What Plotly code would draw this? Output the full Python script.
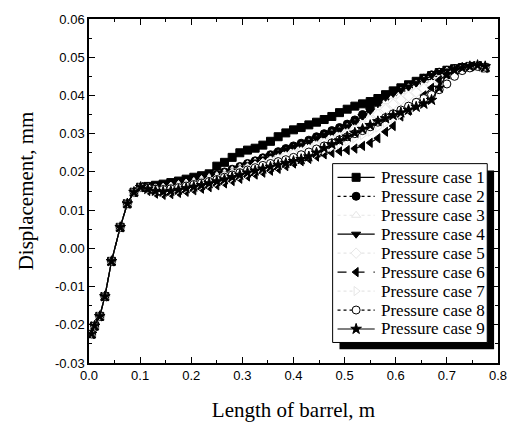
import plotly.graph_objects as go

# Inlet section: identical for every pressure case
x_inlet = [0.005, 0.011, 0.021, 0.031, 0.044, 0.061, 0.075, 0.088, 0.101]
y_inlet = [-0.0224, -0.0203, -0.0178, -0.0126, -0.0034, 0.0055, 0.0117, 0.0147, 0.0160]

# Bore section stations
x_bore = [0.115, 0.13, 0.145, 0.16, 0.175, 0.19, 0.205, 0.22, 0.235, 0.25,
          0.265, 0.28, 0.295, 0.31, 0.325, 0.34, 0.355, 0.37, 0.385, 0.40,
          0.415, 0.43, 0.445, 0.46, 0.475, 0.49, 0.505, 0.52, 0.535, 0.55,
          0.565, 0.58, 0.595, 0.61, 0.625, 0.64, 0.655, 0.67, 0.685, 0.70,
          0.715, 0.73, 0.745, 0.76, 0.775]

case1 = [0.0162, 0.0165, 0.0168, 0.0172, 0.0176, 0.0181, 0.0186, 0.0190, 0.0195, 0.0215,
         0.0225, 0.0238, 0.0250, 0.0257, 0.0262, 0.0270, 0.0280, 0.0292, 0.0302, 0.0310,
         0.0316, 0.0323, 0.0330, 0.0337, 0.0345, 0.0355, 0.0364, 0.0372, 0.0378, 0.0384,
         0.0392, 0.0402, 0.0412, 0.0420, 0.0428, 0.0437, 0.0445, 0.0452, 0.0460, 0.0466,
         0.0470, 0.0473, 0.0476, 0.0478, 0.0472]
case2 = [0.0160, 0.0160, 0.0162, 0.0165, 0.0169, 0.0173, 0.0178, 0.0182, 0.0187, 0.0193,
         0.0200, 0.0207, 0.0214, 0.0222, 0.0229, 0.0237, 0.0245, 0.0253, 0.0261, 0.0268,
         0.0275, 0.0283, 0.0292, 0.0300, 0.0308, 0.0316, 0.0325, 0.0336, 0.0350, 0.0365,
         0.0380, 0.0395, 0.0407, 0.0416, 0.0425, 0.0435, 0.0445, 0.0454, 0.0461, 0.0466,
         0.0470, 0.0473, 0.0476, 0.0478, 0.0473]
case3 = [0.0159, 0.0158, 0.0160, 0.0163, 0.0167, 0.0171, 0.0175, 0.0180, 0.0185, 0.0190,
         0.0197, 0.0204, 0.0211, 0.0219, 0.0226, 0.0233, 0.0240, 0.0247, 0.0254, 0.0261,
         0.0268, 0.0276, 0.0284, 0.0292, 0.0300, 0.0308, 0.0316, 0.0326, 0.0338, 0.0352,
         0.0368, 0.0384, 0.0398, 0.0410, 0.0420, 0.0430, 0.0440, 0.0450, 0.0458, 0.0464,
         0.0469, 0.0472, 0.0475, 0.0477, 0.0473]
case4 = [0.0158, 0.0157, 0.0158, 0.0161, 0.0165, 0.0169, 0.0174, 0.0178, 0.0183, 0.0188,
         0.0195, 0.0202, 0.0210, 0.0219, 0.0226, 0.0234, 0.0242, 0.0250, 0.0258, 0.0265,
         0.0270, 0.0278, 0.0288, 0.0295, 0.0302, 0.0310, 0.0318, 0.0330, 0.0345, 0.0360,
         0.0378, 0.0395, 0.0405, 0.0413, 0.0422, 0.0432, 0.0442, 0.0452, 0.0460, 0.0464,
         0.0468, 0.0472, 0.0475, 0.0477, 0.0472]
case5 = [0.0157, 0.0155, 0.0155, 0.0158, 0.0161, 0.0165, 0.0169, 0.0173, 0.0178, 0.0183,
         0.0189, 0.0195, 0.0202, 0.0209, 0.0215, 0.0222, 0.0228, 0.0234, 0.0240, 0.0246,
         0.0252, 0.0259, 0.0267, 0.0275, 0.0283, 0.0291, 0.0300, 0.0310, 0.0322, 0.0335,
         0.0350, 0.0364, 0.0377, 0.0388, 0.0398, 0.0408, 0.0418, 0.0428, 0.0440, 0.0452,
         0.0462, 0.0469, 0.0474, 0.0477, 0.0474]
case6 = [0.0150, 0.0143, 0.0140, 0.0142, 0.0145, 0.0148, 0.0152, 0.0156, 0.0160, 0.0165,
         0.0170, 0.0176, 0.0182, 0.0188, 0.0193, 0.0198, 0.0203, 0.0208, 0.0215, 0.0222,
         0.0228, 0.0234, 0.0240, 0.0246, 0.0250, 0.0254, 0.0257, 0.0261, 0.0268, 0.0276,
         0.0288, 0.0305, 0.0320, 0.0345, 0.0360, 0.0380, 0.0400, 0.0420, 0.0440, 0.0455,
         0.0465, 0.0470, 0.0474, 0.0476, 0.0472]
case7 = [0.0154, 0.0150, 0.0148, 0.0150, 0.0153, 0.0157, 0.0161, 0.0165, 0.0169, 0.0174,
         0.0179, 0.0185, 0.0191, 0.0197, 0.0203, 0.0208, 0.0213, 0.0218, 0.0224, 0.0230,
         0.0236, 0.0243, 0.0250, 0.0258, 0.0265, 0.0272, 0.0280, 0.0288, 0.0296, 0.0305,
         0.0316, 0.0328, 0.0340, 0.0352, 0.0364, 0.0376, 0.0388, 0.0400, 0.0415, 0.0432,
         0.0452, 0.0466, 0.0473, 0.0477, 0.0475]
case8 = [0.0158, 0.0155, 0.0154, 0.0156, 0.0159, 0.0163, 0.0167, 0.0171, 0.0175, 0.0180,
         0.0186, 0.0192, 0.0198, 0.0205, 0.0211, 0.0217, 0.0222, 0.0227, 0.0232, 0.0238,
         0.0245, 0.0252, 0.0260, 0.0268, 0.0276, 0.0284, 0.0292, 0.0300, 0.0308, 0.0318,
         0.0330, 0.0342, 0.0352, 0.0362, 0.0372, 0.0382, 0.0392, 0.0402, 0.0415, 0.0430,
         0.0450, 0.0465, 0.0472, 0.0476, 0.0474]
case9 = [0.0155, 0.0150, 0.0148, 0.0150, 0.0153, 0.0157, 0.0161, 0.0165, 0.0170, 0.0175,
         0.0180, 0.0186, 0.0192, 0.0198, 0.0203, 0.0208, 0.0213, 0.0218, 0.0223, 0.0228,
         0.0233, 0.0240, 0.0250, 0.0262, 0.0272, 0.0282, 0.0292, 0.0302, 0.0312, 0.0322,
         0.0332, 0.0340, 0.0348, 0.0355, 0.0362, 0.0370, 0.0378, 0.0388, 0.0420, 0.0455,
         0.0466, 0.0472, 0.0476, 0.0479, 0.0476]

case_names = ["Pressure case 1", "Pressure case 2", "Pressure case 3",
              "Pressure case 4", "Pressure case 5", "Pressure case 6",
              "Pressure case 7", "Pressure case 8", "Pressure case 9"]
case_values = [case1, case2, case3, case4, case5, case6, case7, case8, case9]

x_tick_vals = [0.0, 0.1, 0.2, 0.3, 0.4, 0.5, 0.6, 0.7, 0.8]
x_tick_labels = ["0.0", "0.1", "0.2", "0.3", "0.4", "0.5", "0.6", "0.7", "0.8"]
y_tick_vals = [-0.03, -0.02, -0.01, 0.0, 0.01, 0.02, 0.03, 0.04, 0.05, 0.06]
y_tick_labels = ["-0.03", "-0.02", "-0.01", "0.00", "0.01", "0.02", "0.03", "0.04", "0.05", "0.06"]

# (line dash, marker symbol, marker fill, ink colour)
styles = [
    ("solid", "square", "black", "black"),
    ("dot", "circle", "black", "black"),
    ("dot", "triangle-up", "white", "#e6e6e6"),
    ("solid", "triangle-down", "black", "black"),
    ("dot", "diamond", "white", "#e6e6e6"),
    ("dash", "triangle-left", "black", "black"),
    ("dot", "triangle-right", "white", "#e6e6e6"),
    ("dot", "circle", "white", "black"),
    ("solid", "star", "black", "black"),
]

SERIF = "Liberation Serif, Times New Roman, serif"
SANS = "Liberation Sans, Arial, sans-serif"

# Plot-area frame in pixels (used for the hand-built legend key)
PL, PR, PT, PB = 89, 507, 14, 366
W, H = 519, 430

fig = go.Figure()
for name, yb, (dash, sym, fill, ink) in zip(case_names, case_values, styles):
    fig.add_trace(go.Scatter(
        x=x_inlet + x_bore,
        y=y_inlet + yb,
        name=name,
        mode="lines+markers",
        line=dict(color=ink, width=1.2, dash=dash),
        marker=dict(symbol=sym, size=8, color=fill, line=dict(color=ink, width=1)),
        showlegend=False,
    ))

# Legend key: box with drop shadow, sample line + marker and label per case
box_l, box_t, box_r, box_b = 338, 162, 496, 345
shadow = 7
row_y0, row_dy = 176, 19.4
seg_x0, seg_x1, mark_x, text_x = 343, 381, 362, 385

fig.add_shape(type="rect", xref="x2", yref="y2",
              x0=box_l + shadow, x1=box_r + shadow, y0=box_t + shadow, y1=box_b + shadow,
              fillcolor="black", line=dict(width=0), layer="below")
fig.add_shape(type="rect", xref="x2", yref="y2",
              x0=box_l, x1=box_r, y0=box_t, y1=box_b,
              fillcolor="white", line=dict(color="black", width=1), layer="below")

for i, (name, (dash, sym, fill, ink)) in enumerate(zip(case_names, styles)):
    ry = row_y0 + i * row_dy
    fig.add_trace(go.Scatter(
        x=[seg_x0, seg_x1], y=[ry, ry], xaxis="x2", yaxis="y2", mode="lines",
        line=dict(color=ink, width=1.2, dash=dash), showlegend=False, hoverinfo="skip",
    ))
    fig.add_trace(go.Scatter(
        x=[mark_x], y=[ry], xaxis="x2", yaxis="y2", mode="markers",
        marker=dict(symbol=sym, size=8, color=fill, line=dict(color=ink, width=1)),
        showlegend=False, hoverinfo="skip",
    ))
    fig.add_annotation(
        x=text_x, y=ry, xref="x2", yref="y2", text=name, showarrow=False,
        xanchor="left", yanchor="middle",
        font=dict(family=SERIF, size=17, color="black"),
    )

axis_common = dict(
    showline=True, linecolor="black", linewidth=1.5, mirror="allticks",
    ticks="inside", ticklen=6, tickwidth=1.2, tickcolor="black",
    showgrid=False, zeroline=False,
    tickfont=dict(family=SANS, size=13, color="black"),
)

fig.update_layout(
    width=W, height=H,
    margin=dict(l=PL, r=W - PR, t=PT, b=H - PB),
    paper_bgcolor="white", plot_bgcolor="white",
    showlegend=False,
    xaxis=dict(
        range=[0, 0.8], tickvals=x_tick_vals, ticktext=x_tick_labels,
        minor=dict(dtick=0.05, ticks="inside", ticklen=3, tickcolor="black"),
        title=dict(text="Length of barrel, m", standoff=20,
                   font=dict(family=SERIF, size=21, color="black")),
        **axis_common,
    ),
    yaxis=dict(
        range=[-0.03, 0.06], tickvals=y_tick_vals, ticktext=y_tick_labels,
        minor=dict(dtick=0.005, ticks="inside", ticklen=3, tickcolor="black"),
        title=dict(text="Displacement, mm", standoff=16,
                   font=dict(family=SERIF, size=21, color="black")),
        **axis_common,
    ),
    xaxis2=dict(range=[PL, PR], overlaying="x", anchor="y2", visible=False, fixedrange=True),
    yaxis2=dict(range=[PB, PT], overlaying="y", anchor="x2", visible=False, fixedrange=True),
)

fig.write_html("out.html")
